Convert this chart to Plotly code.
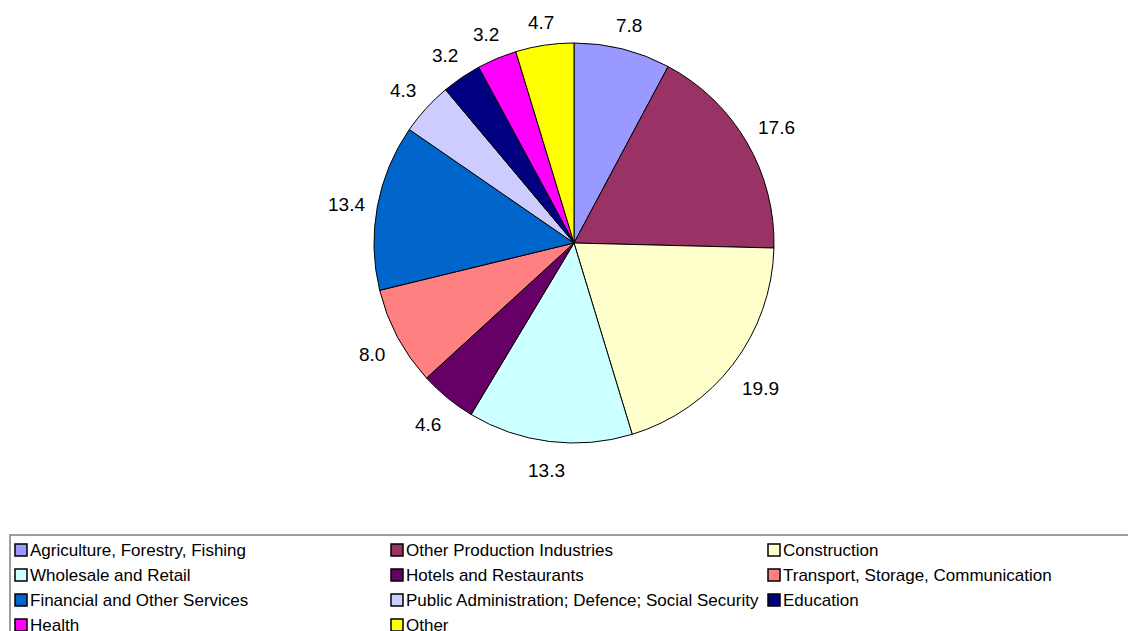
import math
import plotly.graph_objects as go

# Share of employment by sector (%)
sectors = [
    "Agriculture, Forestry, Fishing",
    "Other Production Industries",
    "Construction",
    "Wholesale and Retail",
    "Hotels and Restaurants",
    "Transport, Storage, Communication",
    "Financial and Other Services",
    "Public Administration; Defence; Social Security",
    "Education",
    "Health",
    "Other",
]
shares = [7.8, 17.6, 19.9, 13.3, 4.6, 8.0, 13.4, 4.3, 3.2, 3.2, 4.7]
colors = [
    "#9999FF", "#993366", "#FFFFCC", "#CCFFFF", "#660066", "#FF8080",
    "#0066CC", "#CCCCFF", "#000080", "#FF00FF", "#FFFF00",
]

W, H = 1128, 631
FONT = "Liberation Sans, Arial, sans-serif"
LABEL_SIZE = 19
LEGEND_SIZE = 17

# pie geometry in pixels
CX, CY, R = 574, 243, 200


def px(x):
    return x / W


def py(y):
    return 1 - y / H


fig = go.Figure(
    go.Pie(
        values=shares,
        labels=sectors,
        marker=dict(colors=colors, line=dict(color="black", width=1)),
        sort=False,
        direction="clockwise",
        rotation=0,
        textinfo="none",
        domain=dict(x=[px(CX - R), px(CX + R)], y=[py(CY + R), py(CY - R)]),
        showlegend=False,
        hoverinfo="label+value",
    )
)

annotations = []

# value labels placed just outside each slice, at the slice's mid angle
total = sum(shares)
cum = 0.0
for v in shares:
    mid = (cum + v / 2) / total * 2 * math.pi
    cum += v
    text = f"{v:.1f}"
    s, c = math.sin(mid), math.cos(mid)
    half_w = 0.29 * LABEL_SIZE * len(text) - 0.5
    dist = R + 7.6 + abs(s) * half_w + abs(c) * 16.5
    lx = CX + dist * s
    ly = CY - dist * c + 3
    annotations.append(
        dict(
            x=px(lx), y=py(ly), xref="paper", yref="paper",
            text=text, showarrow=False, xanchor="center", yanchor="middle",
            font=dict(family=FONT, size=LABEL_SIZE, color="black"),
        )
    )

# Legend: three columns inside a framed box along the bottom
shapes = [
    dict(
        type="rect", xref="paper", yref="paper",
        x0=px(10), x1=px(1140), y0=py(535), y1=py(660),
        line=dict(color="#7f7f7f", width=1.5), fillcolor="white", layer="below",
    )
]
col_x = [15, 391, 768]
row_y = [550, 575, 600, 625]
for i, (name, col) in enumerate(zip(sectors, colors)):
    cx = col_x[i % 3]
    cy = row_y[i // 3]
    shapes.append(
        dict(
            type="rect", xref="paper", yref="paper",
            x0=px(cx), x1=px(cx + 12), y0=py(cy + 6), y1=py(cy - 6),
            line=dict(color="black", width=1.5), fillcolor=col,
        )
    )
    annotations.append(
        dict(
            x=px(cx + 13), y=py(cy), xref="paper", yref="paper",
            text=name, showarrow=False, xanchor="left", yanchor="middle",
            font=dict(family=FONT, size=LEGEND_SIZE, color="black"),
        )
    )

fig.update_layout(
    width=W, height=H,
    margin=dict(l=0, r=0, t=0, b=0),
    paper_bgcolor="white",
    plot_bgcolor="white",
    shapes=shapes,
    annotations=annotations,
)

fig.write_html("out.html")
